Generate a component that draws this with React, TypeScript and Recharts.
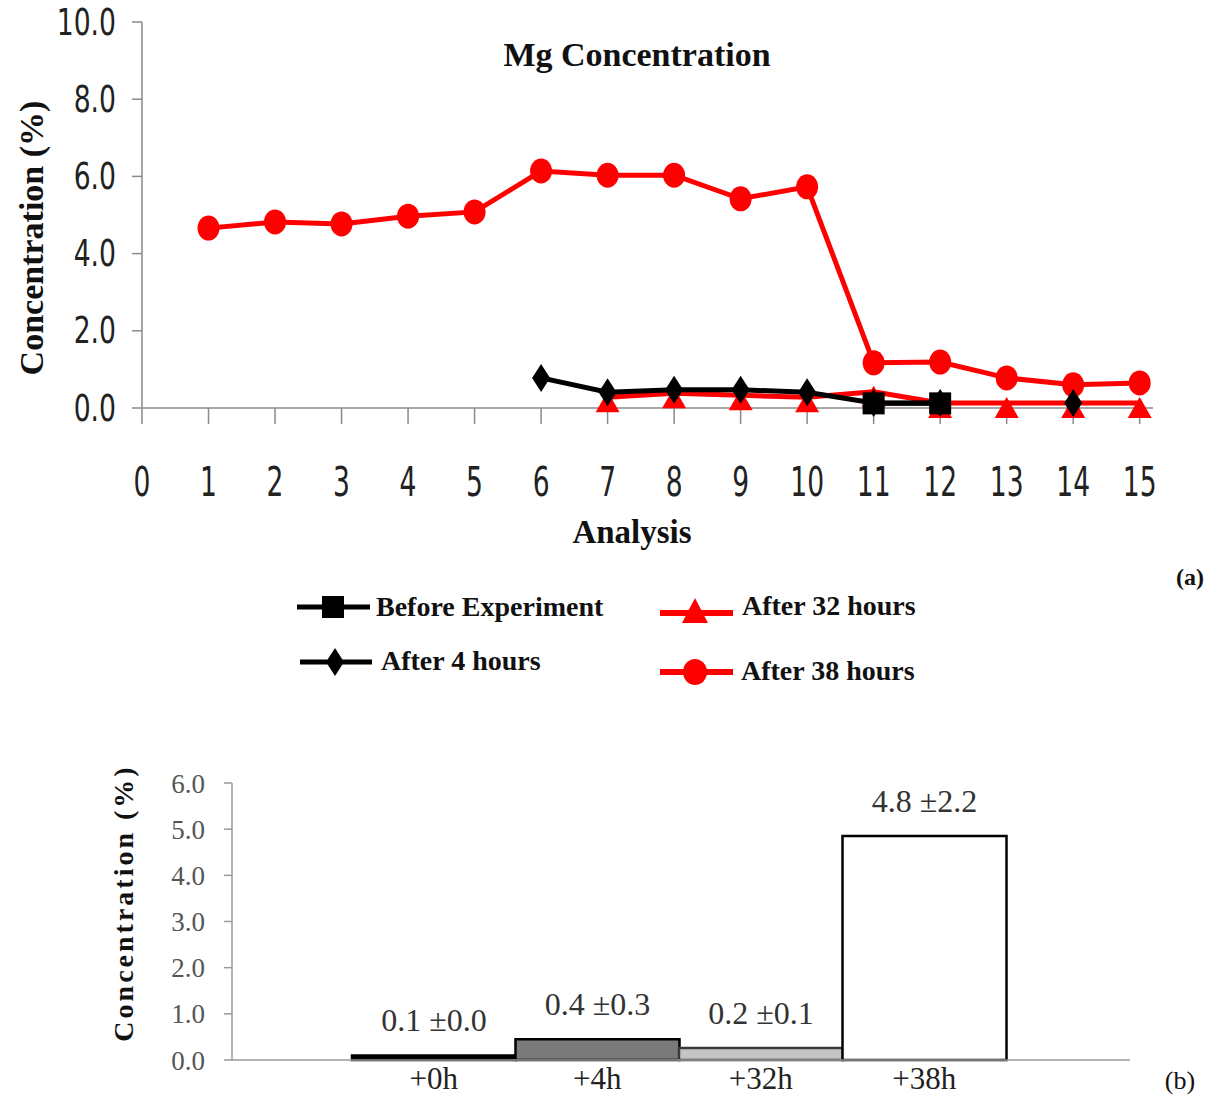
import React from 'react';
import { LineChart, Line, XAxis, YAxis, BarChart, Bar, Cell, LabelList } from 'recharts';

// ---------- Chart (a) data ----------
const analysis = [1, 2, 3, 4, 5, 6, 7, 8, 9, 10, 11, 12, 13, 14, 15];
const beforeExperiment = [null, null, null, null, null, null, null, null, null, null, 0.12, 0.12, null, null, null];
const after4Hours = [null, null, null, null, null, 0.78, 0.41, 0.47, 0.47, 0.41, 0.13, 0.13, null, 0.13, null];
const after32Hours = [null, null, null, null, null, null, 0.28, 0.38, 0.33, 0.28, 0.42, 0.13, 0.13, 0.13, 0.13];
const after38Hours = [4.66, 4.82, 4.77, 4.97, 5.08, 6.14, 6.03, 6.03, 5.42, 5.73, 1.17, 1.19, 0.78, 0.6, 0.65];
const xTicks = [0, 1, 2, 3, 4, 5, 6, 7, 8, 9, 10, 11, 12, 13, 14, 15];
const yTicksA = [0, 2, 4, 6, 8, 10];

// ---------- Chart (b) data ----------
const barCategories = ['+0h', '+4h', '+32h', '+38h'];
const barValues = [0.1, 0.45, 0.26, 4.85];
const barLabels = ['0.1 ±0.0', '0.4 ±0.3', '0.2 ±0.1', '4.8 ±2.2'];
const yTicksB = [0, 1, 2, 3, 4, 5, 6];

const barFills = ['#000000', '#7a7a7a', '#c4c4c4', '#ffffff'];
const barStrokes = ['#000000', '#000000', '#3a3a3a', '#000000'];

const lineData = analysis.map((x, i) => ({
  x,
  before: beforeExperiment[i],
  h4: after4Hours[i],
  h32: after32Hours[i],
  h38: after38Hours[i],
}));

const barData = barCategories.map((c, i) => ({ cat: c, value: barValues[i], label: barLabels[i] }));

const SERIF = "'Liberation Serif', 'Times New Roman', serif";
const NARROW = "'Liberation Sans Narrow', 'DejaVu Sans Condensed', sans-serif";

const empty = (p: any) => <g key={`e${p.index}`} />;

const CircleDot = (p: any) =>
  p.value == null || p.cy == null ? empty(p) : (
    <ellipse key={`c${p.index}`} cx={p.cx} cy={p.cy} rx={11} ry={12.5} fill="#ff0000" />
  );
const TriangleDot = (p: any) =>
  p.value == null || p.cy == null ? empty(p) : (
    <polygon
      key={`t${p.index}`}
      points={`${p.cx},${p.cy - 6} ${p.cx + 12},${p.cy + 15} ${p.cx - 12},${p.cy + 15}`}
      fill="#ff0000"
    />
  );
const DiamondDot = (p: any) =>
  p.value == null || p.cy == null ? empty(p) : (
    <polygon
      key={`d${p.index}`}
      points={`${p.cx},${p.cy - 14} ${p.cx + 9},${p.cy} ${p.cx},${p.cy + 14} ${p.cx - 9},${p.cy}`}
      fill="#000000"
    />
  );
const SquareDot = (p: any) =>
  p.value == null || p.cy == null ? empty(p) : (
    <rect key={`s${p.index}`} x={p.cx - 11} y={p.cy - 11} width={22} height={22} fill="#000000" />
  );

// Narrow tall tick labels (condensed look of the original)
const YTickA = (p: any) => (
  <g transform={`translate(${p.x},${p.y})`}>
    <text
      transform="scale(0.8,1)"
      textAnchor="end"
      dominantBaseline="central"
      fontFamily={NARROW}
      fontSize={37}
      fill="#222"
    >
      {Number(p.payload.value).toFixed(1)}
    </text>
  </g>
);
const XTickA = (p: any) => (
  <g transform={`translate(${p.x},${p.y})`}>
    <text
      transform="scale(0.72,1)"
      textAnchor="middle"
      dominantBaseline="central"
      fontFamily={NARROW}
      fontSize={41}
      fill="#222"
    >
      {p.payload.value}
    </text>
  </g>
);

export default function App() {
  return (
    <div style={{ position: 'absolute', left: 0, top: 0, width: 1212, height: 1097, background: '#fff', overflow: 'hidden' }}>
      {/* Chart (a) */}
      <div style={{ position: 'absolute', left: 0, top: 0 }}>
        <LineChart width={1212} height={560} data={lineData} margin={{ top: 22, right: 59, bottom: 52, left: 0 }}>
          <XAxis
            type="number"
            dataKey="x"
            domain={[0, 15.2]}
            ticks={xTicks}
            interval={0}
            allowDataOverflow
            height={100}
            tickSize={16}
            tickMargin={58}
            stroke="#8a8a8a"
            strokeWidth={1.5}
            tick={XTickA}
          />
          <YAxis
            type="number"
            domain={[0, 10]}
            ticks={yTicksA}
            interval={0}
            width={142}
            tickSize={10}
            tickMargin={16}
            stroke="#8a8a8a"
            strokeWidth={1.5}
            tick={YTickA}
          />
          <Line dataKey="h38" stroke="#ff0000" strokeWidth={5} dot={CircleDot} isAnimationActive={false} />
          <Line dataKey="h32" stroke="#ff0000" strokeWidth={5} dot={TriangleDot} isAnimationActive={false} />
          <Line dataKey="h4" stroke="#000000" strokeWidth={5} dot={DiamondDot} isAnimationActive={false} />
          <Line dataKey="before" stroke="#000000" strokeWidth={5} dot={SquareDot} isAnimationActive={false} />
        </LineChart>
      </div>

      {/* Chart (b) */}
      <div style={{ position: 'absolute', left: 0, top: 760 }}>
        <BarChart width={1212} height={337} data={barData} margin={{ top: 23, right: 82, bottom: 7, left: 0 }} barCategoryGap={0}>
          <XAxis
            dataKey="cat"
            height={30}
            padding={{ left: 120, right: 124 }}
            tickLine={false}
            tickSize={0}
            tickMargin={7}
            stroke="#9a9a9a"
            strokeWidth={1.5}
            tick={{ fontFamily: SERIF, fontSize: 31, fill: '#222' }}
          />
          <YAxis
            type="number"
            domain={[0, 6]}
            ticks={yTicksB}
            interval={0}
            width={232}
            tickSize={8}
            tickMargin={19}
            stroke="#9a9a9a"
            strokeWidth={1.5}
            tickFormatter={(v: number) => v.toFixed(1)}
            tick={{ fontFamily: SERIF, fontSize: 27, fill: '#555' }}
          />
          <Bar dataKey="value" isAnimationActive={false} strokeWidth={2.5}>
            {barData.map((d, i) => (
              <Cell key={d.cat} fill={barFills[i]} stroke={barStrokes[i]} />
            ))}
            <LabelList dataKey="label" position="top" offset={24} style={{ fontFamily: SERIF, fontSize: 32, fill: '#333' }} />
          </Bar>
        </BarChart>
      </div>

      {/* Titles, axis titles, legend */}
      <svg width={1212} height={1097} style={{ position: 'absolute', left: 0, top: 0, pointerEvents: 'none' }}>
        <text x={637} y={54} textAnchor="middle" dominantBaseline="central" fontFamily={SERIF} fontWeight="bold" fontSize={34} fill="#111">
          Mg Concentration
        </text>
        <text x={632} y={532} textAnchor="middle" dominantBaseline="central" fontFamily={SERIF} fontWeight="bold" fontSize={33} fill="#111">
          Analysis
        </text>
        <text
          x={31}
          y={238}
          textAnchor="middle"
          dominantBaseline="central"
          fontFamily={SERIF}
          fontWeight="bold"
          fontSize={34}
          fill="#111"
          transform="rotate(-90 31 238)"
        >
          Concentration (%)
        </text>
        <text x={1190} y={577} textAnchor="middle" dominantBaseline="central" fontFamily={SERIF} fontWeight="bold" fontSize={24} fill="#111">
          (a)
        </text>

        {/* Legend */}
        <line x1={297} y1={607} x2={370} y2={607} stroke="#000" strokeWidth={5} />
        <rect x={322} y={596} width={22} height={22} fill="#000" />
        <text x={376} y={606} dominantBaseline="central" fontFamily={SERIF} fontWeight="bold" fontSize={28} fill="#111">
          Before Experiment
        </text>

        <line x1={300} y1={662} x2={372} y2={662} stroke="#000" strokeWidth={5} />
        <polygon points="335,648 344,662 335,676 326,662" fill="#000" />
        <text x={381} y={660} dominantBaseline="central" fontFamily={SERIF} fontWeight="bold" fontSize={28} fill="#111">
          After 4 hours
        </text>

        <line x1={660} y1={613} x2={733} y2={613} stroke="#ff0000" strokeWidth={6} />
        <polygon points="695,598 708,623 682,623" fill="#ff0000" />
        <text x={742} y={605} dominantBaseline="central" fontFamily={SERIF} fontWeight="bold" fontSize={28} fill="#111">
          After 32 hours
        </text>

        <line x1={660} y1={672} x2={733} y2={672} stroke="#ff0000" strokeWidth={6} />
        <ellipse cx={695} cy={672} rx={12} ry={13} fill="#ff0000" />
        <text x={741} y={670} dominantBaseline="central" fontFamily={SERIF} fontWeight="bold" fontSize={28} fill="#111">
          After 38 hours
        </text>

        {/* Chart (b) labels */}
        <text
          x={123}
          y={903}
          textAnchor="middle"
          dominantBaseline="central"
          fontFamily={SERIF}
          fontWeight="bold"
          fontSize={28}
          letterSpacing={3}
          fill="#111"
          transform="rotate(-90 123 903)"
        >
          Concentration (%)
        </text>
        <text x={1180} y={1080} textAnchor="middle" dominantBaseline="central" fontFamily={SERIF} fontSize={26} fill="#111">
          (b)
        </text>
      </svg>
    </div>
  );
}
